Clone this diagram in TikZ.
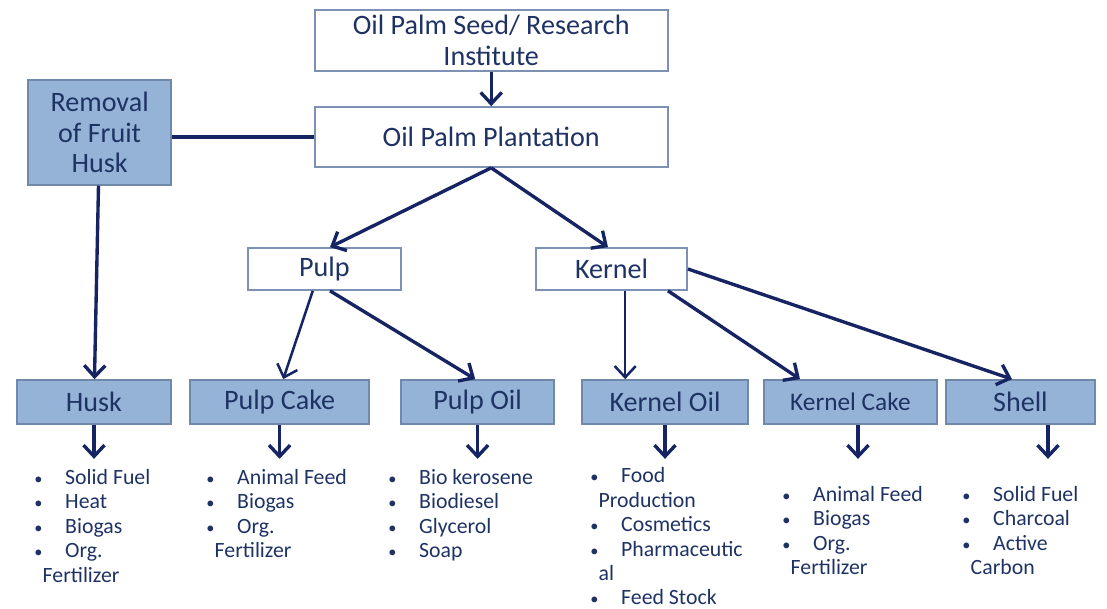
\documentclass[tikz,border=0pt]{standalone}
\usepackage{fontspec}
\setmainfont{Carlito}
\usetikzlibrary{arrows.meta}
\definecolor{navy}{RGB}{22,36,100}
\definecolor{inkblue}{RGB}{30,50,100}
\definecolor{boxfill}{RGB}{149,179,215}
\definecolor{boxline}{RGB}{112,136,170}
\definecolor{paleline}{RGB}{125,145,180}
\newcommand{\itm}[1]{\makebox[22pt][l]{\scalebox{0.75}{\textbullet}}#1}
\begin{document}
\begin{tikzpicture}[>={Straight Barb[length=8pt,width=15pt]},
    box/.style={draw=paleline, line width=1.2pt, fill=white, text=inkblue, font=\fontsize{20}{22}\selectfont, align=center, inner sep=0pt},
    prodbox/.style={box, draw=boxline, fill=boxfill},
    arr/.style={->, draw=navy, line width=2.4pt},
    list/.style={anchor=north west, inner sep=0pt, align=left, text=inkblue, font=\fontsize{15.5}{17.4}\selectfont}]
  \useasboundingbox (0,0) rectangle (27.675,15.2);
  \node[box, minimum width=8.825cm, minimum height=1.525cm] (seed) at (12.28,14.19) {Oil Palm Seed/ Research\\Institute};
  \node[box, minimum width=8.825cm, minimum height=1.5cm] (plant) at (12.28,11.775) {Oil Palm Plantation};
  \node[prodbox, minimum width=3.575cm, minimum height=2.625cm] (removal) at (2.49,11.89) {Removal\\of Fruit\\Husk};
  \node[box, minimum width=3.825cm, minimum height=1.05cm] (pulp) at (8.11,8.475) {Pulp};
  \node[box, minimum width=3.775cm, minimum height=1.05cm] (kernel) at (15.29,8.475) {Kernel};
  \node[prodbox, minimum width=3.85cm, minimum height=1.1cm] (husk) at (2.35,5.15) {Husk};
  \node[prodbox, minimum width=4.475cm, minimum height=1.1cm] (pcake) at (6.99,5.15) {Pulp Cake};
  \node[prodbox, minimum width=3.825cm, minimum height=1.1cm] (poil) at (11.94,5.15) {Pulp Oil};
  \node[prodbox, minimum width=4.15cm, minimum height=1.1cm] (koil) at (16.625,5.15) {Kernel Oil};
  \node[prodbox, minimum width=4.325cm, minimum height=1.1cm, font=\fontsize{18}{20}\selectfont] (kcake) at (21.26,5.15) {Kernel Cake};
  \node[prodbox, minimum width=3.725cm, minimum height=1.1cm] (shell) at (25.51,5.15) {Shell};
  \draw[arr] (seed) -- (plant);
  \draw[draw=navy, line width=2.4pt] (plant.west -| removal.east) -- (plant.west);
  \draw[arr] (removal) -- (husk);
  \draw[arr] (plant.south) -- ([xshift=0.14cm]pulp.north);
  \draw[arr] (plant.south) -- ([xshift=-0.09cm]kernel.north);
  \draw[arr, line width=1.8pt] ([xshift=-0.29cm]pulp.south) -- ([xshift=0.09cm]pcake.north);
  \draw[arr] ([xshift=0.14cm]pulp.south) -- ([xshift=-0.06cm]poil.north);
  \draw[arr, line width=1.8pt] ([xshift=0.34cm]kernel.south) -- ([xshift=0.34cm]kernel.south |- koil.north);
  \draw[arr] ([xshift=1.41cm]kernel.south) -- ([xshift=-1.26cm]kcake.north);
  \draw[arr] (kernel.east) -- ([xshift=-0.21cm]shell.north);
  \foreach \n/\dx in {husk/0,pcake/0,poil/0,koil/0,kcake/0.19,shell/0.69}
    \draw[arr] ([xshift=\dx cm]\n.south) -- ++(0,-0.85);
  \node[list] (huskuse) at (0.85,3.475) {\itm{Solid Fuel}\\\itm{Heat}\\\itm{Biogas}\\\itm{Org.}\\\hspace*{6pt}Fertilizer};
  \node[list] (pcakeuse) at (5.15,3.475) {\itm{Animal Feed}\\\itm{Biogas}\\\itm{Org.}\\\hspace*{6pt}Fertilizer};
  \node[list] (poiluse) at (9.7,3.475) {\itm{Bio kerosene}\\\itm{Biodiesel}\\\itm{Glycerol}\\\itm{Soap}};
  \node[list] (koiluse) at (14.75,3.52) {\itm{Food}\\\hspace*{6pt}Production\\\itm{Cosmetics}\\\itm{Pharmaceutic}\\\hspace*{6pt}al\\\itm{Feed Stock}};
  \node[list] (kcakeuse) at (19.55,3.05) {\itm{Animal Feed}\\\itm{Biogas}\\\itm{Org.}\\\hspace*{6pt}Fertilizer};
  \node[list] (shelluse) at (24.05,3.05) {\itm{Solid Fuel}\\\itm{Charcoal}\\\itm{Active}\\\hspace*{6pt}Carbon};
\end{tikzpicture}
\end{document}
